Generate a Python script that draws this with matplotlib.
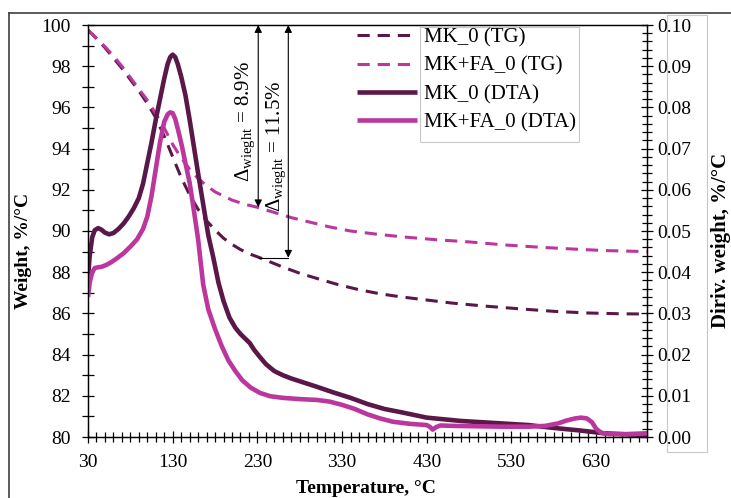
import matplotlib
matplotlib.use('Agg')
import matplotlib.pyplot as plt
from matplotlib.ticker import MultipleLocator
from matplotlib.patches import Rectangle
from matplotlib.lines import Line2D

plt.rcParams['font.family'] = ['Liberation Serif', 'DejaVu Serif']
plt.rcParams['mathtext.fontset'] = 'custom'
plt.rcParams['mathtext.rm'] = 'Liberation Serif'
plt.rcParams['mathtext.it'] = 'Liberation Serif:italic'
plt.rcParams['mathtext.bf'] = 'Liberation Serif:bold'

# ---------------- data ----------------
tg_mk_T = [30, 40, 50, 60, 70, 80, 90, 100, 110, 120, 130, 140, 150, 160, 170, 180, 190, 200, 210, 220,
           233, 245, 260, 280, 300, 325, 350, 375, 400, 430, 460, 500, 540, 580, 620, 660, 690]
tg_mk_W = [99.75, 99.35, 98.9, 98.4, 97.9, 97.35, 96.8, 96.2, 95.5, 94.6, 93.6, 92.6, 91.75, 91.05, 90.5,
           90.05, 89.65, 89.35, 89.1, 88.9, 88.7, 88.5, 88.25, 87.95, 87.7, 87.4, 87.15, 86.95, 86.8, 86.65,
           86.5, 86.35, 86.22, 86.1, 86.02, 85.98, 85.97]

tg_fa_T = [30, 40, 50, 60, 70, 80, 90, 100, 110, 120, 130, 140, 150, 160, 170, 180, 190, 200, 215, 230,
           250, 270, 290, 315, 340, 370, 400, 440, 480, 520, 560, 600, 640, 690]
tg_fa_W = [99.75, 99.35, 98.95, 98.5, 98.0, 97.45, 96.9, 96.35, 95.7, 95.0, 94.2, 93.55, 93.0, 92.55, 92.2,
           91.9, 91.7, 91.5, 91.3, 91.15, 90.9, 90.65, 90.45, 90.2, 90.0, 89.85, 89.72, 89.58, 89.47, 89.33,
           89.22, 89.13, 89.05, 89.0]

dta_mk_T = [30, 32, 35, 38, 42, 46, 50, 55, 60, 66, 72, 78, 84, 90, 95, 100, 105, 110, 115, 120, 124, 127,
            130, 133, 136, 140, 145, 150, 155, 160, 166, 172, 178, 184, 190, 197, 204, 210, 216, 221, 226,
            233, 240, 250, 260, 270, 285, 300, 320, 340, 360, 380, 400, 430, 470, 510, 550, 580, 610, 640,
            670, 690]
dta_mk_D = [0.0385, 0.0440, 0.0485, 0.0502, 0.0507, 0.0503, 0.0496, 0.0492, 0.0495, 0.0505, 0.0518, 0.0535,
            0.0555, 0.0580, 0.0615, 0.0665, 0.0715, 0.0770, 0.0820, 0.0870, 0.0905, 0.0922, 0.0928, 0.0922,
            0.0905, 0.0875, 0.0830, 0.0770, 0.0705, 0.0640, 0.0565, 0.0490, 0.0435, 0.0375, 0.0330, 0.0290,
            0.0265, 0.0250, 0.0238, 0.0228, 0.0212, 0.0194, 0.0177, 0.0160, 0.0150, 0.0142, 0.0132, 0.0122,
            0.0108, 0.0095, 0.0080, 0.0068, 0.0060, 0.0047, 0.0039, 0.0034, 0.0029, 0.0022, 0.0016, 0.0009,
            0.0006, 0.0005]

dta_fa_T = [30, 32, 35, 38, 42, 46, 52, 58, 65, 72, 80, 88, 95, 100, 105, 110, 115, 120, 124, 127, 130,
            133, 137, 141, 145, 150, 155, 160, 166, 172, 180, 188, 196, 204, 212, 222, 233, 245, 260, 280,
            300, 315, 330, 345, 360, 375, 390, 410, 430, 434, 437, 441, 446, 460, 490, 520, 550, 570, 585,
            595, 605, 612, 619, 625, 630, 636, 645, 665, 690]
dta_fa_D = [0.0340, 0.0375, 0.0400, 0.0410, 0.0412, 0.0413, 0.0418, 0.0425, 0.0435, 0.0446, 0.0462, 0.0480,
            0.0505, 0.0535, 0.0585, 0.0650, 0.0715, 0.0765, 0.0783, 0.0788, 0.0786, 0.0772, 0.0740, 0.0705,
            0.0665, 0.0617, 0.0550, 0.0480, 0.0370, 0.0310, 0.0262, 0.0220, 0.0185, 0.0160, 0.0138, 0.0120,
            0.0107, 0.0099, 0.0095, 0.0092, 0.0090, 0.0086, 0.0078, 0.0068, 0.0055, 0.0045, 0.0037, 0.0032,
            0.0029, 0.0024, 0.0018, 0.0024, 0.0028, 0.0027, 0.0026, 0.0025, 0.0025, 0.0027, 0.0033, 0.0040,
            0.0045, 0.0047, 0.0045, 0.0036, 0.0020, 0.0010, 0.0007, 0.0007, 0.0009]

labels = ['MK_0 (TG)', 'MK+FA_0 (TG)', 'MK_0 (DTA)', 'MK+FA_0 (DTA)']
x_ticks = [30, 130, 230, 330, 430, 530, 630]

# annotation values
arrow1_T, arrow1_end = 231, 91.15
arrow2_T, arrow2_end = 266.5, 88.7
ledge_T0 = 232
note1 = r'$\Delta_{\mathrm{wieght}}$ = 8.9%'
note2 = r'$\Delta_{\mathrm{wieght}}$ = 11.5%'

DARK = '#5a1848'
PINK = '#bb379e'

# ---------------- figure ----------------
W, H = 731, 498
fig = plt.figure(figsize=(W / 100, H / 100), dpi=100)
ax = fig.add_axes([88 / W, 1 - 437 / H, (647 - 88) / W, (437 - 25) / H])
ax2 = ax.twinx()

l1, = ax.plot(tg_mk_T, tg_mk_W, color=DARK, lw=2.2, dashes=(4, 2.6), label=labels[0])
l2, = ax.plot(tg_fa_T, tg_fa_W, color=PINK, lw=2.2, dashes=(4, 2.6), label=labels[1])
l3, = ax2.plot(dta_mk_T, dta_mk_D, color=DARK, lw=3.3, solid_joinstyle='round', solid_capstyle='butt', label=labels[2])
l4, = ax2.plot(dta_fa_T, dta_fa_D, color=PINK, lw=3.3, solid_joinstyle='round', solid_capstyle='butt', label=labels[3])

ax.set_xlim(30, 690)
ax.set_ylim(80, 100)
ax2.set_ylim(0, 0.10)

ax.xaxis.set_major_locator(plt.FixedLocator(x_ticks))
ax.xaxis.set_minor_locator(MultipleLocator(10))
ax.yaxis.set_major_locator(MultipleLocator(2))
ax.yaxis.set_minor_locator(MultipleLocator(1))
ax2.yaxis.set_major_locator(MultipleLocator(0.01))
ax2.yaxis.set_minor_locator(MultipleLocator(0.002))
ax2.yaxis.set_major_formatter(plt.FormatStrFormatter('%.2f'))

for a in (ax, ax2):
    for s in a.spines.values():
        s.set_linewidth(0.9)
        s.set_color('black')

ax.tick_params(axis='x', which='major', direction='inout', length=9, width=0.9, pad=8, labelsize=14)
ax.tick_params(axis='x', which='minor', direction='inout', length=7, width=0.9)
ax.tick_params(axis='y', which='major', direction='inout', length=9, width=0.9, pad=8, labelsize=14)
ax.tick_params(axis='y', which='minor', direction='inout', length=8, width=0.9)
ax2.tick_params(axis='y', which='major', direction='inout', length=9, width=0.9, pad=3, labelsize=14)
ax2.tick_params(axis='y', which='minor', direction='inout', length=7, width=0.9)

# annotations
ax.annotate('', xy=(arrow1_T, arrow1_end), xytext=(arrow1_T, 100),
            arrowprops=dict(arrowstyle='<|-|>', color='black', lw=0.8, shrinkA=0, shrinkB=0,
                            mutation_scale=11))
ax.annotate('', xy=(arrow2_T, arrow2_end), xytext=(arrow2_T, 100),
            arrowprops=dict(arrowstyle='<|-|>', color='black', lw=0.8, shrinkA=0, shrinkB=0,
                            mutation_scale=11))
ax.plot([ledge_T0, arrow2_T], [arrow2_end, arrow2_end], color='black', lw=0.8)
ax.text(216, 95.3, note1, rotation=90, ha='center', va='center', fontsize=15)
ax.text(252, 94.1, note2, rotation=90, ha='center', va='center', fontsize=15)

# legend (handles outside grey text box)
leg = fig.legend([l1, l2, l3, l4], labels, loc='upper left',
                 bbox_to_anchor=(357 / W, 1 - 28 / H), frameon=False, fontsize=15,
                 handlelength=2.9, handletextpad=0.3, labelspacing=0.42, borderpad=0,
                 borderaxespad=0)
fig.add_artist(Rectangle((420 / W, 1 - 142 / H), 159 / W, 115 / H, transform=fig.transFigure,
                         fill=False, edgecolor='#c8c8c8', lw=0.8))
fig.add_artist(Rectangle((667 / W, 1 - 452 / H), 40 / W, 437 / H, transform=fig.transFigure,
                         fill=False, edgecolor='#c8c8c8', lw=0.8))
# outer frame
fig.add_artist(Line2D([9 / W, 1.0], [1 - 13 / H, 1 - 13 / H], transform=fig.transFigure,
                      color='#404040', lw=1.2))
fig.add_artist(Line2D([9 / W, 9 / W], [0, 1 - 13 / H], transform=fig.transFigure,
                      color='#404040', lw=1.2))

# axis labels
fig.text(24 / W, 1 - 251 / H, 'Weight, %/°C', rotation=90, ha='center', va='center',
         fontsize=14, fontweight='bold')
fig.text(721 / W, 1 - 240 / H, 'Diriv. weight, %/°C', rotation=90, ha='center', va='center',
         fontsize=15, fontweight='bold')
fig.text(366 / W, 1 - 488 / H, 'Temperature, °C', ha='center', va='center',
         fontsize=14, fontweight='bold')

fig.savefig('out.png', dpi=100)
